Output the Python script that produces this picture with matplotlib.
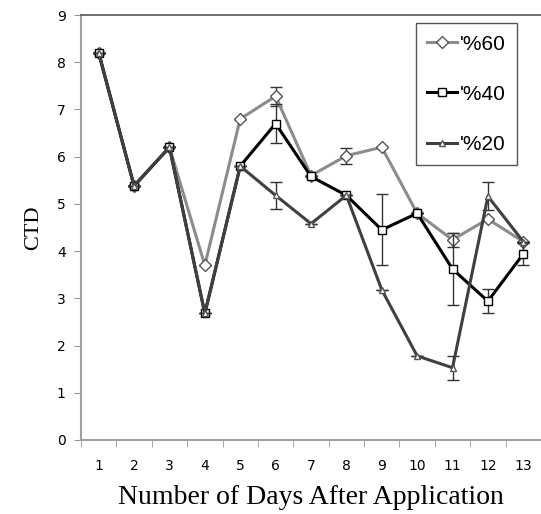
import numpy as np
import matplotlib.pyplot as plt
from matplotlib.lines import Line2D

days = np.arange(1, 14)
labels = ["'%60", "'%40", "'%20"]

ctd60 = [8.2, 5.38, 6.2, 3.7, 6.8, 7.28, 5.6, 6.02, 6.2, 4.8, 4.24, 4.68, 4.2]
err60 = [0, 0, 0, 0, 0, 0.2, 0, 0.17, 0, 0, 0.15, 0, 0]

ctd40 = [8.2, 5.38, 6.2, 2.68, 5.8, 6.7, 5.58, 5.18, 4.45, 4.8, 3.62, 2.94, 3.94]
err40 = [0, 0, 0, 0, 0, 0.42, 0, 0, 0.75, 0, 0.77, 0.25, 0.24]

ctd20 = [8.2, 5.38, 6.2, 2.68, 5.8, 5.18, 4.58, 5.18, 3.18, 1.78, 1.53, 5.16, 4.2]
err20 = [0, 0, 0, 0, 0, 0.29, 0, 0, 0, 0, 0.25, 0.3, 0]

fig = plt.figure(figsize=(5.41, 5.14), dpi=100)
ax = fig.add_axes([0.1497, 0.144, 0.8503, 0.8268])

styles = [
    dict(color='#8c8c8c', marker='D', ms=6.5, mec='#555555'),
    dict(color='black', marker='s', ms=6, mec='black'),
    dict(color='#404040', marker='^', ms=5, mec='#555555'),
]

# -----SERIES----
handles = []
for i, (y, e) in enumerate([(ctd60, err60), (ctd40, err40), (ctd20, err20)]):
    st = styles[i]
    ax.errorbar(days, y, yerr=e, color=st['color'], ecolor='#333333', lw=2.2,
                elinewidth=1, capsize=4, marker=st['marker'], ms=st['ms'],
                mfc='white', mec=st['mec'], mew=1, zorder=3 + i)
    handles.append(Line2D([], [], color=st['color'], lw=2.2, marker=st['marker'],
                          ms=st['ms'], mfc='white', mec=st['mec'], mew=1))

ax.set_xlim(0.5, 13.41)
ax.set_ylim(0, 9)
ax.set_yticks(np.arange(0, 10))
ax.set_xticks(days)
ax.set_xticks(np.arange(0.5, 13.6, 1), minor=True)
ax.tick_params(axis='x', which='major', length=0, pad=14, labelsize=10)
ax.tick_params(axis='x', which='minor', length=5, color='#999999', direction='out')
ax.tick_params(axis='y', length=5, color='#999999', labelsize=10, pad=6)

for s in ['left', 'bottom']:
    ax.spines[s].set_color('#a0a0a0')
    ax.spines[s].set_linewidth(1.5)
ax.spines['top'].set_color('#555555')
ax.spines['top'].set_linewidth(1.2)
ax.spines['right'].set_visible(False)

ax.set_ylabel('CTD', family='Liberation Serif', fontsize=16, labelpad=10)
ax.set_xlabel('Number of Days After Application', family='Liberation Serif',
              fontsize=20, labelpad=8)

leg = ax.legend(handles, labels, loc='upper right', bbox_to_anchor=(0.948, 0.981),
                prop={'family': 'Liberation Sans', 'size': 15},
                handlelength=1.4, handletextpad=0.15, labelspacing=1.5,
                borderpad=0.55, borderaxespad=0, fancybox=False, framealpha=1,
                edgecolor='#555555')
leg.get_frame().set_linewidth(1)

fig.savefig('out.png', dpi=100)
